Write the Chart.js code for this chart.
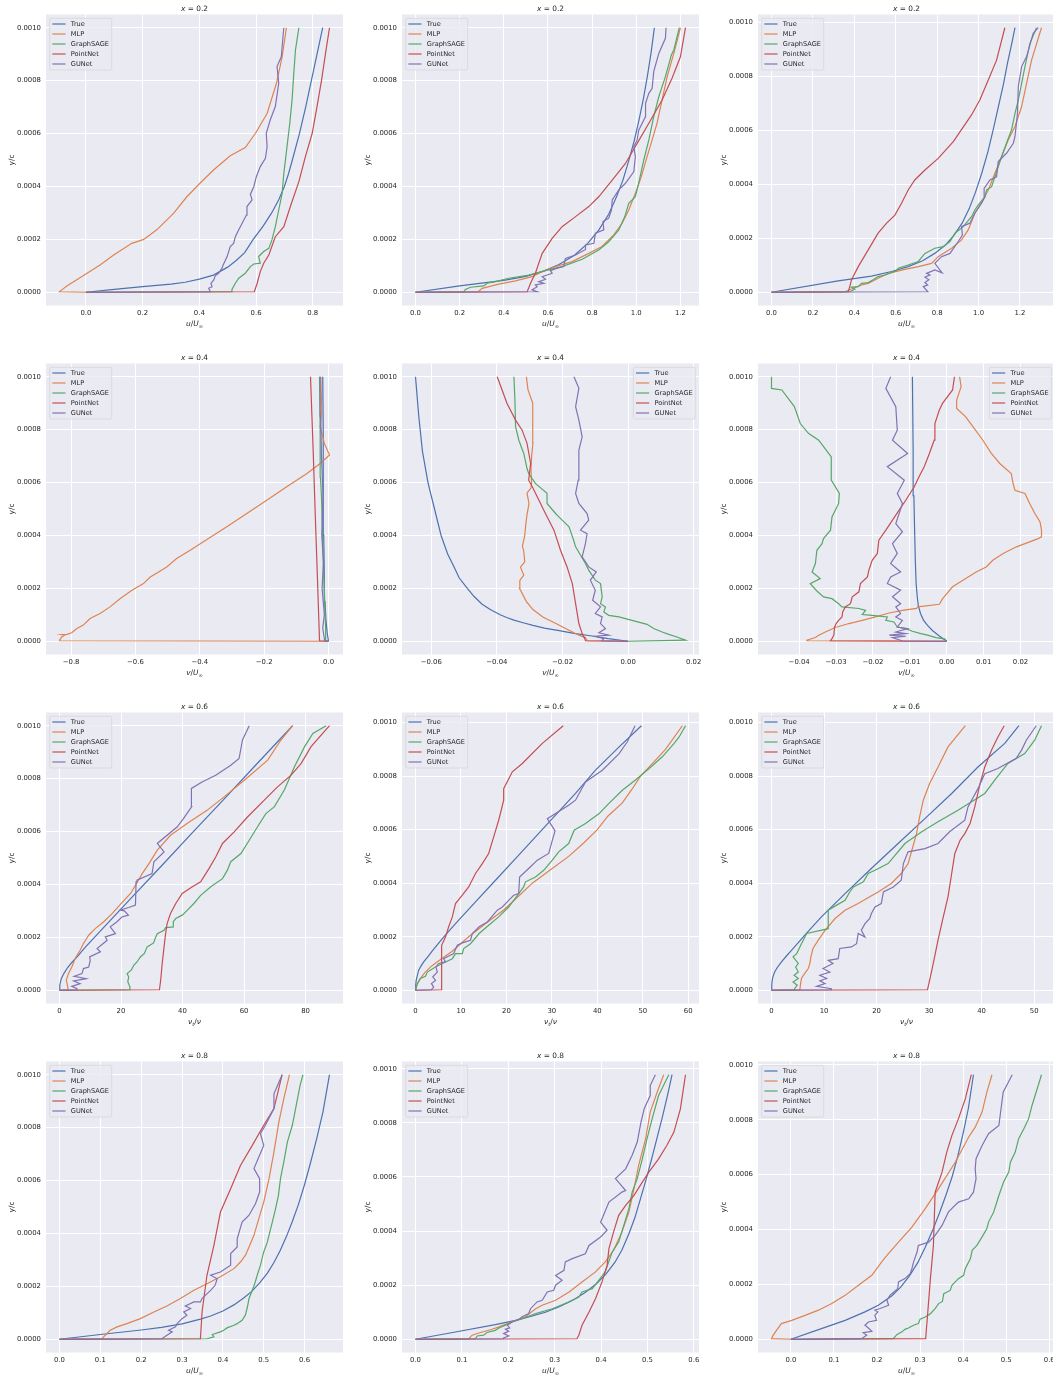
<!DOCTYPE html>
<html>
<head>
<meta charset="utf-8">
<script src="https://cdn.jsdelivr.net/npm/chart.js@4.4.1/dist/chart.umd.min.js"></script>
<style>
  html, body { margin: 0; padding: 0; background: #ffffff; overflow: hidden; }
  #fig { position: relative; width: 1053px; height: 1378px; overflow: hidden; background: #ffffff; }
  #fig canvas { position: absolute; }
</style>
</head>
<body>
<div id="fig"></div>
<script>
// Boundary-layer profiles: each point is [value, y/c in units of 1e-4]
const Y_UNIT = 1e-4;
const SERIES_NAMES = ['True', 'MLP', 'GraphSAGE', 'PointNet', 'GUNet'];
const SERIES_COLORS = ['#4C72B0', '#DD8452', '#55A868', '#C44E52', '#8172B3'];
const Y_TICKS = [0, 0.0002, 0.0004, 0.0006, 0.0008, 0.001];

// ---------- row 1: u/U_inf at x = 0.2 ----------
const P1_TRUE = [[0,0],[0.1,0.11],[0.2,0.21],[0.3,0.31],[0.35,0.38],[0.4,0.5],[0.45,0.65],[0.5,0.95],[0.53,1.2],[0.56,1.5],[0.59,2.0],[0.625,2.5],[0.655,3.0],[0.68,3.5],[0.7,4.0],[0.715,4.5],[0.728,5.0],[0.753,6.0],[0.775,7.0],[0.795,8.0],[0.815,9.0],[0.835,10]];
const P1_MLP = [[0,0],[-0.093,0.02],[-0.085,0.09],[-0.067,0.24],[-0.032,0.47],[0,0.69],[0.05,1.03],[0.098,1.41],[0.162,1.85],[0.204,2.0],[0.25,2.36],[0.309,2.98],[0.356,3.61],[0.404,4.14],[0.45,4.62],[0.509,5.16],[0.562,5.47],[0.598,6.01],[0.639,6.76],[0.672,7.9],[0.692,8.9],[0.707,10]];
const P1_SAGE = [[0,0],[0.512,0.02],[0.515,0.11],[0.527,0.34],[0.539,0.53],[0.562,0.72],[0.58,0.97],[0.592,1.07],[0.615,1.1],[0.609,1.35],[0.627,1.54],[0.645,1.66],[0.656,1.98],[0.668,2.48],[0.68,3.11],[0.692,3.74],[0.698,4.5],[0.705,5.13],[0.712,5.76],[0.719,6.39],[0.727,7.27],[0.733,8.27],[0.739,9.16],[0.751,10]];
const P1_POINT = [[0,0],[0.594,0.02],[0.604,0.34],[0.615,0.78],[0.627,1.1],[0.645,1.41],[0.668,2.1],[0.698,2.48],[0.721,3.24],[0.751,4.18],[0.774,5.13],[0.798,6.01],[0.815,7.02],[0.831,8.02],[0.845,9.03],[0.859,10]];
const P1_GUNET = [[0,0],[0.439,0.02],[0.433,0.15],[0.445,0.21],[0.441,0.34],[0.451,0.47],[0.456,0.62],[0.468,0.72],[0.48,0.91],[0.484,1.03],[0.498,1.35],[0.509,1.73],[0.521,1.85],[0.527,2.1],[0.539,2.36],[0.551,2.61],[0.566,2.92],[0.568,3.24],[0.586,3.49],[0.58,3.7],[0.592,3.99],[0.601,4.37],[0.615,4.75],[0.633,5.06],[0.639,5.5],[0.636,6.01],[0.65,6.51],[0.668,7.02],[0.68,7.9],[0.674,8.53],[0.689,8.9],[0.695,9.66],[0.698,10]];

const P2_TRUE = [[0,0],[0.2,0.24],[0.4,0.45],[0.5,0.6],[0.58,0.8],[0.65,1.05],[0.72,1.4],[0.78,1.85],[0.83,2.35],[0.875,2.95],[0.91,3.6],[0.94,4.25],[0.965,4.95],[0.99,5.7],[1.012,6.5],[1.032,7.3],[1.05,8.15],[1.067,9.05],[1.082,10]];
const P2_MLP = [[0,0],[0.284,0.02],[0.302,0.15],[0.377,0.31],[0.453,0.43],[0.528,0.59],[0.574,0.78],[0.634,0.97],[0.709,1.16],[0.785,1.47],[0.845,1.73],[0.898,2.17],[0.936,2.61],[0.966,3.11],[0.996,3.74],[1.023,4.37],[1.049,5.13],[1.072,5.76],[1.094,6.39],[1.117,7.27],[1.14,8.15],[1.17,9.03],[1.2,10]];
const P2_SAGE = [[0,0],[0.219,0.02],[0.226,0.11],[0.249,0.19],[0.309,0.24],[0.325,0.34],[0.362,0.4],[0.423,0.53],[0.513,0.65],[0.589,0.82],[0.664,0.97],[0.755,1.25],[0.83,1.6],[0.875,1.91],[0.921,2.36],[0.948,2.86],[0.966,3.36],[0.996,3.61],[1.014,4.24],[1.034,5.0],[1.057,5.76],[1.079,6.64],[1.102,7.39],[1.132,8.15],[1.159,8.97],[1.17,9.16],[1.195,10]];
const P2_POINT = [[0,0],[0.506,0.02],[0.521,0.34],[0.543,0.72],[0.574,1.47],[0.619,2.04],[0.664,2.48],[0.725,2.86],[0.785,3.24],[0.83,3.61],[0.891,4.24],[0.951,4.87],[1.004,5.63],[1.057,6.39],[1.117,7.27],[1.162,8.09],[1.2,8.9],[1.223,10]];
const P2_GUNET = [[0,0],[0.551,0.02],[0.528,0.09],[0.551,0.21],[0.543,0.28],[0.581,0.34],[0.558,0.4],[0.589,0.49],[0.574,0.59],[0.619,0.72],[0.611,0.82],[0.642,0.91],[0.672,0.97],[0.679,1.28],[0.725,1.41],[0.77,1.62],[0.77,1.79],[0.808,1.85],[0.815,2.23],[0.853,2.36],[0.849,2.67],[0.875,2.8],[0.888,3.11],[0.891,3.49],[0.921,3.87],[0.951,4.12],[0.989,4.56],[0.996,5.13],[0.989,5.5],[1.004,5.76],[1.011,6.13],[1.042,6.64],[1.042,7.14],[1.057,7.52],[1.072,7.71],[1.079,8.34],[1.102,9.03],[1.132,9.6],[1.135,10]];

const P3_TRUE = [[0,0],[0.322,0.42],[0.483,0.6],[0.58,0.77],[0.66,0.95],[0.73,1.17],[0.79,1.45],[0.84,1.75],[0.88,2.1],[0.92,2.55],[0.955,3.1],[0.985,3.7],[1.015,4.4],[1.045,5.2],[1.07,6.0],[1.095,6.85],[1.12,7.7],[1.14,8.5],[1.16,9.2],[1.176,9.8]];
const P3_MLP = [[0,0],[0.355,0.02],[0.395,0.15],[0.435,0.27],[0.467,0.33],[0.515,0.52],[0.564,0.7],[0.644,0.85],[0.709,0.95],[0.773,1.07],[0.805,1.32],[0.87,1.63],[0.918,1.94],[0.95,2.31],[0.982,2.93],[1.014,3.3],[1.047,3.79],[1.079,4.41],[1.111,5.02],[1.143,5.64],[1.176,6.14],[1.208,6.88],[1.232,7.74],[1.256,8.6],[1.304,9.8]];
const P3_SAGE = [[0,0],[0.378,0.02],[0.403,0.11],[0.386,0.19],[0.419,0.21],[0.435,0.33],[0.467,0.36],[0.491,0.46],[0.515,0.58],[0.548,0.64],[0.604,0.8],[0.612,0.89],[0.66,1.01],[0.709,1.14],[0.741,1.44],[0.789,1.63],[0.829,1.69],[0.862,1.88],[0.886,2.19],[0.926,2.43],[0.966,2.8],[0.982,3.05],[0.998,3.23],[1.031,3.54],[1.039,3.79],[1.063,3.91],[1.079,4.28],[1.095,4.65],[1.111,5.02],[1.135,5.52],[1.159,6.01],[1.176,6.63],[1.192,7.12],[1.208,7.74],[1.224,8.36],[1.248,9.22],[1.28,9.8]];
const P3_POINT = [[0,0],[0.37,0.02],[0.378,0.21],[0.386,0.46],[0.419,0.95],[0.467,1.57],[0.515,2.19],[0.556,2.56],[0.596,2.86],[0.628,3.3],[0.66,3.79],[0.692,4.16],[0.741,4.53],[0.805,4.96],[0.878,5.58],[0.966,6.57],[1.006,7.12],[1.047,7.86],[1.087,8.6],[1.127,9.8]];
const P3_GUNET = [[0,0],[0.755,0.02],[0.733,0.21],[0.754,0.27],[0.741,0.36],[0.76,0.46],[0.741,0.56],[0.765,0.64],[0.749,0.7],[0.789,0.83],[0.824,0.72],[0.789,1.07],[0.821,1.32],[0.862,1.44],[0.902,1.88],[0.922,2.12],[0.918,2.43],[0.958,2.56],[0.982,2.93],[1.014,3.3],[1.031,3.54],[1.027,3.85],[1.055,4.16],[1.087,4.28],[1.095,4.84],[1.135,5.15],[1.168,5.52],[1.176,5.77],[1.188,6.63],[1.192,7.62],[1.208,8.36],[1.232,8.73],[1.264,9.59],[1.288,9.8]];

// ---------- row 2: v/U_inf at x = 0.4 ----------
const P4_TRUE = [[0,0],[-0.004,0.3],[-0.008,0.8],[-0.011,1.5],[-0.013,2.5],[-0.015,4.0],[-0.016,6.0],[-0.017,8.0],[-0.018,10]];
const P4_MLP = [[0,0],[-0.836,0.02],[-0.836,0.04],[-0.829,0.16],[-0.819,0.23],[-0.829,0.25],[-0.813,0.26],[-0.798,0.32],[-0.782,0.48],[-0.762,0.61],[-0.741,0.86],[-0.71,1.05],[-0.679,1.3],[-0.648,1.61],[-0.611,1.93],[-0.575,2.18],[-0.554,2.43],[-0.528,2.62],[-0.503,2.81],[-0.472,3.13],[-0.43,3.44],[-0.378,3.85],[-0.316,4.33],[-0.254,4.83],[-0.192,5.33],[-0.13,5.84],[-0.067,6.34],[-0.026,6.72],[0.003,7.04],[-0.013,7.48],[-0.026,8.11],[-0.021,8.74],[-0.024,10]];
const P4_SAGE = [[0,0],[-0.008,0.02],[-0.009,0.5],[-0.012,1.5],[-0.016,3.0],[-0.022,5.5],[-0.025,6.2],[-0.026,8.0],[-0.028,10]];
const P4_POINT = [[0,0],[-0.028,0.02],[-0.034,2.2],[-0.041,4.7],[-0.048,7.3],[-0.056,10]];
const P4_GUNET = [[0,0],[-0.012,0.02],[-0.018,0.5],[-0.013,1.0],[-0.02,2.0],[-0.016,3.0],[-0.021,4.0],[-0.017,5.5],[-0.022,7.0],[-0.024,8.5],[-0.026,10]];

const P5_TRUE = [[0,0],[-0.006,0.1],[-0.011,0.2],[-0.0165,0.3],[-0.021,0.4],[-0.0255,0.5],[-0.029,0.6],[-0.032,0.7],[-0.0348,0.8],[-0.037,0.9],[-0.039,1.0],[-0.042,1.2],[-0.0445,1.4],[-0.047,1.7],[-0.049,2.0],[-0.0515,2.4],[-0.053,2.8],[-0.055,3.3],[-0.057,4.0],[-0.059,5.0],[-0.061,6.0],[-0.0627,7.2],[-0.0638,8.5],[-0.0648,10]];
const P5_MLP = [[0,0],[-0.0125,0.02],[-0.013,0.14],[-0.015,0.23],[-0.018,0.42],[-0.022,0.67],[-0.026,0.92],[-0.029,1.2],[-0.031,1.5],[-0.0331,2.0],[-0.033,2.3],[-0.0318,2.5],[-0.0328,2.8],[-0.0315,3.0],[-0.0318,3.4],[-0.0322,3.6],[-0.0315,4.0],[-0.0312,4.4],[-0.0308,4.8],[-0.0302,5.2],[-0.0308,5.6],[-0.0296,5.8],[-0.0294,6.0],[-0.0296,6.5],[-0.0294,7.0],[-0.029,7.5],[-0.029,8.0],[-0.0292,8.5],[-0.029,9.0],[-0.0305,9.5],[-0.031,10]];
const P5_SAGE = [[0,0],[0.0175,0.04],[0.0149,0.16],[0.0124,0.26],[0.0104,0.35],[0.0078,0.48],[0.0058,0.64],[0.0012,0.79],[-0.0028,0.92],[-0.0059,0.98],[-0.0074,1.11],[-0.0069,1.3],[-0.0084,1.42],[-0.0079,1.68],[-0.0084,2.18],[-0.01,2.31],[-0.012,2.69],[-0.013,2.94],[-0.016,3.57],[-0.0166,3.82],[-0.018,4.33],[-0.0211,4.7],[-0.0221,4.83],[-0.0247,5.21],[-0.0247,5.59],[-0.0282,5.96],[-0.0303,6.34],[-0.0308,6.53],[-0.0318,7.1],[-0.0333,7.6],[-0.0343,8.11],[-0.0345,9.12],[-0.0348,10]];
const P5_POINT = [[0,0],[-0.013,0.02],[-0.0132,0.1],[-0.014,0.29],[-0.015,0.67],[-0.016,1.42],[-0.017,2.18],[-0.0186,2.81],[-0.0206,3.44],[-0.0226,4.2],[-0.0252,4.83],[-0.0277,5.46],[-0.0292,5.84],[-0.0303,6.09],[-0.0297,6.72],[-0.0308,7.48],[-0.0323,7.98],[-0.0343,8.36],[-0.0369,8.99],[-0.0384,9.5],[-0.0399,10]];
const P5_GUNET = [[0,0],[-0.008,0.02],[-0.0074,0.1],[-0.01,0.19],[-0.0059,0.23],[-0.0089,0.32],[-0.0069,0.48],[-0.0084,0.67],[-0.0079,0.92],[-0.01,1.05],[-0.0084,1.3],[-0.0108,1.55],[-0.01,1.93],[-0.0115,2.31],[-0.0097,2.62],[-0.012,2.81],[-0.014,3.19],[-0.013,3.69],[-0.0125,4.07],[-0.0145,4.2],[-0.012,4.58],[-0.0125,4.83],[-0.015,5.21],[-0.016,5.59],[-0.0152,6.09],[-0.015,7.23],[-0.014,7.73],[-0.015,8.36],[-0.016,8.87],[-0.015,9.56],[-0.0165,10]];

const P6_TRUE = [[0,0],[-0.002,0.2],[-0.0038,0.4],[-0.0052,0.6],[-0.0063,0.8],[-0.0071,1.05],[-0.0077,1.35],[-0.008,1.7],[-0.0083,2.2],[-0.0085,3.0],[-0.0087,4.2],[-0.0089,5.5],[-0.0091,7.2],[-0.0093,10]];
const P6_MLP = [[0,0],[-0.0379,0.02],[-0.0379,0.04],[-0.0356,0.14],[-0.0347,0.23],[-0.0329,0.35],[-0.0302,0.52],[-0.0265,0.67],[-0.0229,0.79],[-0.0193,0.92],[-0.0156,1.07],[-0.012,1.17],[-0.0082,1.24],[-0.0079,1.3],[-0.002,1.4],[-0.0011,1.61],[0.0016,2.06],[0.0044,2.31],[0.008,2.62],[0.0107,2.81],[0.0125,3.06],[0.0153,3.32],[0.0189,3.57],[0.0248,3.88],[0.0257,3.95],[0.0257,4.2],[0.0253,4.51],[0.0239,4.83],[0.0225,5.21],[0.0212,5.59],[0.0185,5.71],[0.018,5.96],[0.0175,6.34],[0.0144,6.72],[0.0121,7.1],[0.0098,7.6],[0.0071,8.11],[0.0051,8.49],[0.0027,8.8],[0.0027,9.12],[0.0039,9.62],[0.0035,10]];
const P6_SAGE = [[0,0],[-0.0006,0.09],[-0.0029,0.14],[-0.0052,0.23],[-0.007,0.29],[-0.0093,0.38],[-0.0111,0.48],[-0.0134,0.54],[-0.0143,0.73],[-0.0165,0.79],[-0.0161,0.92],[-0.0202,0.98],[-0.0229,1.01],[-0.022,1.17],[-0.0238,1.24],[-0.0284,1.3],[-0.0293,1.42],[-0.0311,1.61],[-0.0334,1.68],[-0.0352,1.9],[-0.037,2.18],[-0.0343,2.37],[-0.0365,2.62],[-0.0356,2.94],[-0.0352,3.44],[-0.0338,3.69],[-0.0334,3.88],[-0.0315,4.2],[-0.0311,4.7],[-0.0293,5.21],[-0.0291,5.59],[-0.0313,6.09],[-0.0313,6.97],[-0.032,7.1],[-0.0347,7.6],[-0.0375,7.86],[-0.0397,8.23],[-0.0413,8.87],[-0.0447,9.5],[-0.0475,9.56],[-0.0475,10]];
const P6_POINT = [[0,0],[-0.0315,0.02],[-0.0311,0.1],[-0.0306,0.23],[-0.0304,0.54],[-0.0299,0.69],[-0.0293,0.79],[-0.0284,0.92],[-0.0282,1.11],[-0.0275,1.3],[-0.0261,1.42],[-0.0256,1.68],[-0.0238,1.87],[-0.0234,2.18],[-0.0215,2.43],[-0.0211,2.69],[-0.0202,3.06],[-0.0188,3.32],[-0.0184,3.82],[-0.0165,4.2],[-0.0147,4.58],[-0.0129,4.96],[-0.0111,5.33],[-0.0088,5.84],[-0.0075,6.22],[-0.0061,6.6],[-0.0047,7.1],[-0.0034,7.6],[-0.0032,8.23],[-0.002,8.74],[-0.0011,9.0],[0.0016,9.5],[0.0021,10]];
const P6_GUNET = [[0,0],[-0.012,0.01],[-0.0147,0.14],[-0.0111,0.19],[-0.0156,0.23],[-0.0111,0.29],[-0.0138,0.35],[-0.0106,0.48],[-0.0134,0.54],[-0.012,0.79],[-0.0138,0.92],[-0.0125,1.05],[-0.0138,1.3],[-0.0125,1.42],[-0.0147,1.68],[-0.0125,1.93],[-0.0161,2.18],[-0.0152,2.43],[-0.0125,2.62],[-0.0152,2.94],[-0.0134,3.32],[-0.0147,3.69],[-0.012,4.14],[-0.0138,4.45],[-0.012,5.21],[-0.0134,5.59],[-0.0115,6.09],[-0.0161,6.6],[-0.0106,7.1],[-0.0147,7.6],[-0.0134,7.98],[-0.0138,8.87],[-0.0165,9.56],[-0.0152,10]];

// ---------- row 3: nu_t/nu at x = 0.6 ----------
const P7_TRUE = [[0,0],[0.1,0.2],[0.6,0.45],[1.5,0.65],[2.6,0.85],[4.0,1.05],[6.0,1.3],[8.2,1.6],[12.5,2.14],[22.6,3.4],[32.9,4.67],[43,5.93],[53.2,7.19],[63.3,8.45],[75.8,10]];
const P7_MLP = [[0,0],[2.8,0.02],[2.6,0.19],[2.2,0.38],[2.9,0.63],[4.0,0.88],[5.1,1.2],[6.7,1.51],[7.8,1.77],[9.5,2.08],[11.6,2.33],[14.4,2.59],[17.1,2.9],[19.8,3.25],[23.1,3.66],[24.7,3.97],[26.9,4.41],[29.1,4.79],[31.8,5.3],[36.1,5.86],[41.6,6.31],[48.1,6.81],[53.5,7.31],[60.1,7.94],[67.7,8.7],[72,9.46],[75.8,10]];
const P7_SAGE = [[0,0],[22.9,0.02],[22.9,0.13],[22.2,0.32],[22.5,0.5],[22.0,0.63],[23.3,0.76],[24.2,0.95],[25.2,1.07],[26.3,1.26],[27.6,1.39],[28.5,1.64],[30.6,1.79],[31.2,1.99],[31.8,2.14],[34,2.27],[34.5,2.37],[37.2,2.4],[37.0,2.59],[37.8,2.71],[39.9,2.84],[41.6,3.03],[43.7,3.28],[45.9,3.59],[49.2,3.91],[53,4.22],[54.6,4.54],[55.7,4.86],[59,5.17],[61.7,5.67],[64.4,6.18],[67.1,6.68],[69.9,6.94],[73.1,7.57],[76.4,8.45],[79.7,9.21],[82.4,9.71],[86.7,10]];
const P7_POINT = [[0,0],[32.5,0.02],[32.9,0.38],[33.4,1.01],[34,1.64],[34.5,2.14],[35.0,2.52],[36.1,2.9],[37.8,3.28],[39.9,3.66],[43.2,3.91],[45.9,4.1],[48.6,4.6],[50.8,5.04],[53,5.55],[56.8,5.99],[61.2,6.56],[66.6,7.19],[70.9,7.69],[75.3,8.13],[78.6,8.58],[81.8,9.21],[87.8,10]];
const P7_GUNET = [[0,0],[5.7,0.02],[5.7,0.06],[4.0,0.15],[6.7,0.25],[4.6,0.35],[8.7,0.44],[4.8,0.53],[7.3,0.63],[7.8,0.82],[9.5,0.88],[10,1.13],[9.8,1.26],[13.3,1.45],[12.2,1.58],[15.5,1.89],[14.9,2.02],[18.2,2.14],[16.5,2.4],[18.7,2.59],[20.3,2.77],[22.4,2.84],[21.1,3.0],[19.8,3.03],[22.5,3.13],[24.7,3.22],[24.9,4.1],[25.2,4.16],[30.1,4.41],[30.7,4.86],[34,5.23],[31.8,5.55],[38.3,6.18],[40.3,6.49],[43,6.94],[42.9,7.63],[46.5,7.88],[50.8,8.13],[55.7,8.51],[58.4,8.76],[59.5,9.46],[61.7,10]];

const P8_TRUE = [[0,0],[0.05,0.2],[0.15,0.37],[0.4,0.55],[0.7,0.75],[1.2,0.9],[1.8,1.06],[2.7,1.25],[3.7,1.47],[5.9,1.93],[8.8,2.49],[13.2,3.3],[17.6,4.11],[22,4.92],[26.4,5.73],[30.8,6.54],[35.2,7.35],[39.6,8.22],[44.8,9.09],[49.7,9.88]];
const P8_MLP = [[0,0],[0.3,0.2],[0.9,0.4],[2.0,0.65],[3.5,0.9],[5.5,1.15],[8,1.45],[9.7,1.7],[11.7,2.0],[15.5,2.5],[19.4,3.0],[22.6,3.5],[25.7,4.0],[29.7,4.5],[33.7,5.0],[37,5.5],[40,6.0],[42.3,6.5],[45.5,7.0],[47.6,7.5],[49.5,8.0],[52.3,8.5],[55,9.0],[58.7,9.88]];
const P8_SAGE = [[0,0],[0.4,0.25],[1.1,0.44],[2.2,0.52],[2.6,0.68],[4.4,0.87],[5.9,1.0],[8.1,1.18],[8.8,1.37],[10.3,1.37],[10.6,1.56],[12.1,1.74],[14,2.12],[16.1,2.43],[18.3,2.74],[20.5,3.11],[22.7,3.61],[23.8,3.86],[24.2,4.05],[26.4,4.23],[28.2,4.48],[30.1,4.86],[31.5,5.17],[33.7,5.48],[34.9,5.98],[37.4,6.23],[40.4,6.6],[42.5,6.97],[45.5,7.47],[48.4,7.85],[51.4,8.28],[54.3,8.72],[56.9,9.22],[58,9.46],[59.4,9.88]];
const P8_POINT = [[0,0],[5.7,0.02],[5.7,0.87],[5.8,1.68],[6.6,1.99],[7.3,2.37],[8.1,2.74],[8.8,3.24],[10.3,3.55],[11.7,3.86],[13.2,4.36],[14.7,4.73],[16.1,5.11],[17.2,5.73],[18.3,6.35],[19.4,7.1],[19.4,7.53],[21.3,8.16],[23.5,8.47],[27.9,9.22],[32.5,9.88]];
const P8_GUNET = [[0,0],[3.5,0.02],[4.0,0.12],[3.5,0.25],[4.4,0.37],[3.8,0.5],[4.8,0.68],[4.5,0.87],[5.1,1.0],[6.6,1.06],[6.2,1.18],[7.0,1.25],[8.4,1.37],[9.2,1.68],[10.3,1.77],[12.1,1.87],[12.5,2.12],[14,2.37],[15.8,2.55],[18,2.99],[19.1,3.11],[20.5,3.36],[21.6,3.55],[22.7,3.61],[22.9,4.23],[24.9,4.55],[26.8,4.86],[29.3,5.11],[30.1,5.6],[30.7,5.95],[29,6.41],[33.7,6.91],[35.2,7.1],[37.4,7.78],[41.1,8.22],[44.8,8.84],[46.6,9.28],[48.3,9.88]];

const P9_TRUE = [[0,0],[0.05,0.2],[0.13,0.37],[0.3,0.52],[0.6,0.68],[1.1,0.85],[1.9,1.06],[2.8,1.27],[3.8,1.49],[6.3,2.05],[9.5,2.74],[14,3.61],[19,4.55],[24.1,5.48],[29.2,6.41],[34.3,7.35],[39.3,8.34],[44.4,9.22],[47.1,9.88]];
const P9_MLP = [[0,0],[5.4,0.02],[5.5,0.19],[5.7,0.44],[6.3,0.62],[7.0,0.81],[7.3,1.0],[7.5,1.25],[7.9,1.56],[8.9,1.87],[10.2,2.24],[12.1,2.68],[14,2.99],[16.5,3.24],[18.7,3.49],[20.3,3.67],[22.8,3.99],[24.7,4.36],[26,4.73],[26.9,5.35],[27.6,5.85],[28.2,6.48],[28.9,7.1],[30.1,7.72],[31.7,8.34],[33.6,9.09],[36.9,9.88]];
const P9_SAGE = [[0,0],[4.4,0.02],[4.4,0.06],[4.9,0.19],[4.1,0.31],[5.1,0.44],[4.3,0.56],[5.1,0.68],[4.6,0.87],[5.1,1.0],[4.1,1.25],[4.8,1.37],[5.4,1.62],[5.7,1.74],[6.7,2.12],[10.8,2.3],[10.8,2.99],[12.4,3.18],[14,3.36],[14.9,3.67],[15.6,3.86],[17.5,4.05],[18.4,4.36],[19.7,4.48],[22.2,4.73],[25.4,5.48],[28.6,5.92],[31.7,6.29],[35.5,6.72],[40.6,7.35],[42.5,7.85],[45,8.47],[48.2,8.84],[50.1,9.34],[51.4,9.88]];
const P9_POINT = [[0,0],[29.7,0.02],[30.1,0.37],[30.8,1.0],[31.7,1.87],[32.7,2.74],[33.6,3.49],[34.3,4.36],[34.9,5.11],[35.9,5.6],[36.8,5.85],[37.8,6.23],[38.7,6.85],[39.7,7.72],[40.6,8.34],[41.9,8.97],[43.1,9.46],[44.3,9.88]];
const P9_GUNET = [[0,0],[11.4,0.02],[11.4,0.06],[8.6,0.15],[10.2,0.25],[9.2,0.35],[10.5,0.44],[9.2,0.56],[11.1,0.68],[9.8,0.81],[11.7,1.0],[10.8,1.12],[12.7,1.18],[13,1.56],[15.2,1.62],[16.2,1.74],[16.5,2.12],[17.8,1.99],[17.1,2.24],[17.8,2.49],[18.7,2.68],[19,2.86],[19.7,3.11],[20.9,3.24],[21.3,3.67],[23.2,3.86],[24.7,4.11],[25.1,4.73],[26,5.17],[29.2,5.29],[31.7,5.48],[33.9,5.92],[36.8,6.35],[37.4,6.85],[38.1,7.1],[39.3,7.53],[40.6,8.09],[43.1,8.28],[46.6,8.66],[47.6,8.97],[48.5,9.34],[50.4,9.88]];

// ---------- row 4: u/U_inf at x = 0.8 ----------
const P10_TRUE = [[0,0],[0.1,0.18],[0.2,0.35],[0.25,0.45],[0.3,0.58],[0.345,0.76],[0.37,0.88],[0.4,1.07],[0.427,1.3],[0.45,1.55],[0.47,1.8],[0.49,2.13],[0.509,2.5],[0.525,2.9],[0.54,3.35],[0.556,3.9],[0.57,4.45],[0.585,5.1],[0.6,5.85],[0.615,6.7],[0.63,7.6],[0.645,8.6],[0.661,10]];
const P10_MLP = [[0,0],[0.104,0.02],[0.108,0.09],[0.124,0.34],[0.141,0.47],[0.165,0.59],[0.198,0.78],[0.231,1.03],[0.263,1.26],[0.296,1.54],[0.329,1.85],[0.361,2.1],[0.394,2.36],[0.427,2.67],[0.443,2.92],[0.455,3.17],[0.464,3.49],[0.476,3.93],[0.488,4.56],[0.5,5.19],[0.513,6.07],[0.525,7.08],[0.537,8.21],[0.549,9.09],[0.563,10]];
const P10_SAGE = [[0,0],[0.361,0.02],[0.378,0.09],[0.374,0.18],[0.394,0.28],[0.402,0.34],[0.41,0.43],[0.427,0.53],[0.435,0.59],[0.447,0.72],[0.455,0.91],[0.46,1.22],[0.464,1.54],[0.472,1.85],[0.478,2.1],[0.484,2.42],[0.492,2.8],[0.5,3.3],[0.509,3.68],[0.515,4.06],[0.521,4.43],[0.529,4.94],[0.536,5.44],[0.541,6.07],[0.549,6.7],[0.558,7.46],[0.57,8.09],[0.578,8.72],[0.589,9.6],[0.596,10]];
const P10_POINT = [[0,0],[0.345,0.02],[0.349,1.03],[0.361,2.42],[0.378,3.55],[0.394,4.81],[0.419,5.69],[0.443,6.57],[0.472,7.33],[0.5,8.09],[0.525,8.72],[0.545,10]];
const P10_GUNET = [[0,0],[0.251,0.02],[0.251,0.03],[0.263,0.15],[0.276,0.28],[0.267,0.34],[0.284,0.47],[0.288,0.59],[0.3,0.78],[0.312,0.91],[0.304,1.03],[0.321,1.16],[0.308,1.26],[0.329,1.41],[0.345,1.41],[0.349,1.54],[0.357,1.66],[0.37,1.85],[0.381,2.04],[0.386,2.29],[0.37,2.42],[0.394,2.54],[0.419,2.8],[0.419,3.24],[0.435,3.49],[0.435,3.8],[0.447,4.43],[0.464,4.69],[0.48,5.13],[0.49,5.57],[0.49,6.07],[0.476,6.45],[0.488,6.89],[0.5,7.33],[0.492,7.77],[0.504,8.09],[0.525,8.72],[0.525,9.28],[0.545,10]];

const P11_TRUE = [[0,0],[0.086,0.27],[0.172,0.54],[0.216,0.7],[0.25,0.85],[0.28,1.0],[0.31,1.2],[0.34,1.45],[0.365,1.72],[0.39,2.05],[0.41,2.4],[0.43,2.85],[0.445,3.3],[0.46,3.9],[0.473,4.5],[0.485,5.2],[0.497,5.9],[0.508,6.6],[0.52,7.4],[0.532,8.2],[0.543,9.0],[0.553,9.78]];
const P11_MLP = [[0,0],[0.115,0.02],[0.122,0.15],[0.14,0.25],[0.165,0.37],[0.18,0.46],[0.198,0.58],[0.216,0.7],[0.237,0.83],[0.259,1.13],[0.273,1.26],[0.302,1.44],[0.331,1.75],[0.359,2.12],[0.388,2.49],[0.409,2.86],[0.427,3.29],[0.445,3.97],[0.46,4.7],[0.471,5.57],[0.481,6.43],[0.496,7.41],[0.506,8.4],[0.521,9.14],[0.535,9.78]];
const P11_SAGE = [[0,0],[0.129,0.02],[0.133,0.12],[0.147,0.15],[0.154,0.25],[0.172,0.33],[0.18,0.42],[0.194,0.52],[0.208,0.64],[0.23,0.76],[0.259,0.95],[0.295,1.13],[0.33,1.38],[0.352,1.56],[0.359,1.75],[0.381,1.87],[0.395,2.18],[0.409,2.49],[0.424,3.23],[0.438,3.6],[0.449,4.21],[0.46,4.83],[0.467,5.44],[0.478,5.94],[0.489,6.67],[0.499,7.41],[0.51,8.15],[0.524,9.01],[0.546,9.78]];
const P11_POINT = [[0,0],[0.348,0.02],[0.352,0.15],[0.359,0.52],[0.374,1.01],[0.388,1.5],[0.402,2.12],[0.413,2.73],[0.417,3.35],[0.427,3.97],[0.438,4.58],[0.453,4.95],[0.471,5.32],[0.489,5.81],[0.503,6.18],[0.524,6.67],[0.542,7.17],[0.557,7.66],[0.571,8.52],[0.582,9.78]];
const P11_GUNET = [[0,0],[0.19,0.02],[0.19,0.05],[0.201,0.12],[0.19,0.21],[0.201,0.3],[0.194,0.37],[0.203,0.42],[0.198,0.52],[0.208,0.64],[0.223,0.74],[0.23,0.83],[0.244,0.95],[0.248,1.13],[0.262,1.38],[0.273,1.44],[0.284,1.75],[0.298,1.81],[0.302,2.0],[0.316,2.18],[0.302,2.36],[0.32,2.55],[0.323,2.86],[0.338,2.98],[0.366,3.16],[0.374,3.47],[0.399,3.78],[0.413,4.03],[0.399,4.33],[0.417,5.07],[0.445,5.44],[0.453,5.5],[0.431,5.94],[0.453,6.3],[0.467,6.8],[0.478,7.29],[0.486,8.03],[0.493,8.52],[0.506,9.01],[0.506,9.38],[0.517,9.78]];

const P12_TRUE = [[0,0],[0.071,0.39],[0.126,0.69],[0.172,1.0],[0.203,1.24],[0.234,1.58],[0.255,1.9],[0.275,2.3],[0.295,2.8],[0.312,3.35],[0.33,4.0],[0.345,4.6],[0.36,5.25],[0.375,5.95],[0.388,6.7],[0.4,7.5],[0.412,8.4],[0.424,9.64]];
const P12_MLP = [[0,0],[-0.045,0.02],[-0.041,0.15],[-0.033,0.33],[-0.022,0.57],[0.002,0.69],[0.033,0.87],[0.064,1.06],[0.095,1.3],[0.126,1.6],[0.157,1.97],[0.188,2.33],[0.211,2.82],[0.223,3.06],[0.25,3.54],[0.281,4.09],[0.312,4.76],[0.343,5.49],[0.382,6.46],[0.413,7.37],[0.428,7.73],[0.444,8.28],[0.455,9.0],[0.467,9.64]];
const P12_SAGE = [[0,0],[0.238,0.02],[0.246,0.17],[0.258,0.27],[0.265,0.36],[0.273,0.41],[0.285,0.51],[0.296,0.57],[0.3,0.73],[0.312,0.81],[0.324,0.93],[0.335,1.12],[0.343,1.3],[0.352,1.38],[0.355,1.66],[0.37,1.78],[0.374,1.97],[0.389,2.21],[0.401,2.33],[0.405,2.57],[0.417,2.94],[0.421,3.24],[0.432,3.42],[0.444,3.73],[0.455,4.03],[0.459,4.27],[0.471,4.64],[0.483,5.24],[0.494,5.73],[0.506,6.09],[0.51,6.46],[0.521,6.82],[0.529,7.31],[0.541,7.67],[0.552,8.03],[0.56,8.52],[0.572,9.13],[0.582,9.64]];
const P12_POINT = [[0,0],[0.313,0.02],[0.318,1.0],[0.324,2.21],[0.331,3.42],[0.335,5.36],[0.351,6.09],[0.362,6.82],[0.374,7.43],[0.389,8.03],[0.405,8.76],[0.419,9.64]];
const P12_GUNET = [[0,0],[0.164,0.02],[0.176,0.15],[0.168,0.24],[0.188,0.29],[0.18,0.41],[0.172,0.51],[0.18,0.63],[0.199,0.69],[0.195,0.87],[0.202,1.0],[0.195,1.06],[0.207,1.12],[0.227,1.24],[0.223,1.42],[0.23,1.6],[0.248,1.84],[0.25,2.09],[0.265,2.21],[0.277,2.39],[0.281,2.57],[0.285,2.82],[0.293,3.18],[0.296,3.42],[0.32,3.54],[0.335,3.79],[0.351,4.15],[0.366,4.64],[0.389,5.0],[0.413,5.12],[0.424,5.36],[0.43,5.85],[0.428,6.21],[0.43,6.58],[0.444,7.06],[0.459,7.49],[0.483,7.79],[0.493,9.0],[0.514,9.64]];

// x-axis tick values for each column/row
const XT_U02_A = [0, 0.2, 0.4, 0.6, 0.8];
const XT_U02_B = [0, 0.2, 0.4, 0.6, 0.8, 1.0, 1.2];
const XT_V04_A = [-0.8, -0.6, -0.4, -0.2, 0];
const XT_V04_B = [-0.06, -0.04, -0.02, 0, 0.02];
const XT_V04_C = [-0.04, -0.03, -0.02, -0.01, 0, 0.01, 0.02];
const XT_NU_A = [0, 20, 40, 60, 80];
const XT_NU_B = [0, 10, 20, 30, 40, 50, 60];
const XT_NU_C = [0, 10, 20, 30, 40, 50];
const XT_U08 = [0, 0.1, 0.2, 0.3, 0.4, 0.5, 0.6];

const PANELS = [
  { s: [P1_TRUE, P1_MLP, P1_SAGE, P1_POINT, P1_GUNET], st: '0.2', lab: 'u', xt: XT_U02_A, dec: 1, leg: 'left' },
  { s: [P2_TRUE, P2_MLP, P2_SAGE, P2_POINT, P2_GUNET], st: '0.2', lab: 'u', xt: XT_U02_B, dec: 1, leg: 'left' },
  { s: [P3_TRUE, P3_MLP, P3_SAGE, P3_POINT, P3_GUNET], st: '0.2', lab: 'u', xt: XT_U02_B, dec: 1, leg: 'left' },
  { s: [P4_TRUE, P4_MLP, P4_SAGE, P4_POINT, P4_GUNET], st: '0.4', lab: 'v', xt: XT_V04_A, dec: 1, leg: 'left' },
  { s: [P5_TRUE, P5_MLP, P5_SAGE, P5_POINT, P5_GUNET], st: '0.4', lab: 'v', xt: XT_V04_B, dec: 2, leg: 'right' },
  { s: [P6_TRUE, P6_MLP, P6_SAGE, P6_POINT, P6_GUNET], st: '0.4', lab: 'v', xt: XT_V04_C, dec: 2, leg: 'right' },
  { s: [P7_TRUE, P7_MLP, P7_SAGE, P7_POINT, P7_GUNET], st: '0.6', lab: 'nu', xt: XT_NU_A, dec: 0, leg: 'left' },
  { s: [P8_TRUE, P8_MLP, P8_SAGE, P8_POINT, P8_GUNET], st: '0.6', lab: 'nu', xt: XT_NU_B, dec: 0, leg: 'left' },
  { s: [P9_TRUE, P9_MLP, P9_SAGE, P9_POINT, P9_GUNET], st: '0.6', lab: 'nu', xt: XT_NU_C, dec: 0, leg: 'left' },
  { s: [P10_TRUE, P10_MLP, P10_SAGE, P10_POINT, P10_GUNET], st: '0.8', lab: 'u', xt: XT_U08, dec: 1, leg: 'left' },
  { s: [P11_TRUE, P11_MLP, P11_SAGE, P11_POINT, P11_GUNET], st: '0.8', lab: 'u', xt: XT_U08, dec: 1, leg: 'left' },
  { s: [P12_TRUE, P12_MLP, P12_SAGE, P12_POINT, P12_GUNET], st: '0.8', lab: 'u', xt: XT_U08, dec: 1, leg: 'left' }
];

// ---------- drawing helpers ----------
const FAMILY = '"DejaVu Sans"';
const INK = '#262626';
const TICK_SIZE = 6.9;
const LABEL_SIZE = 7.4;
const LEGEND_SIZE = 6.6;

function fontStr(size, italic) { return (italic ? 'italic ' : '') + size + 'px ' + FAMILY; }

// draws a run of text pieces (italic / subscript aware) centred on cx, baseline at by
function drawRich(ctx, parts, cx, by, size) {
  let total = 0;
  const runs = parts.map(p => {
    const s = p.sub ? size * 0.7 : size;
    ctx.font = fontStr(s, p.it);
    const w = ctx.measureText(p.t).width;
    total += w;
    return { p, s, w };
  });
  let x = cx - total / 2;
  ctx.textAlign = 'left';
  ctx.textBaseline = 'alphabetic';
  for (const r of runs) {
    ctx.font = fontStr(r.s, r.p.it);
    ctx.fillText(r.p.t, x, by + (r.p.sub ? size * 0.22 : 0));
    x += r.w;
  }
}

const X_LABELS = {
  u: [{ t: 'u', it: true }, { t: '/' }, { t: 'U', it: true }, { t: '\u221E', sub: true }],
  v: [{ t: 'v', it: true }, { t: '/' }, { t: 'U', it: true }, { t: '\u221E', sub: true }],
  nu: [{ t: '\u03BD', it: true }, { t: 't', it: true, sub: true }, { t: '/' }, { t: '\u03BD', it: true }]
};

function fmtTick(v, dec) {
  const s = Math.abs(v).toFixed(dec);
  return (v < 0 && Number(s) !== 0 ? '\u2212' : '') + s;
}

const panelBackground = {
  id: 'panelBackground',
  beforeDraw(chart) {
    const a = chart.chartArea, ctx = chart.ctx;
    ctx.save();
    ctx.fillStyle = '#EAEAF2';
    ctx.fillRect(a.left, a.top, a.right - a.left, a.bottom - a.top);
    ctx.restore();
  }
};

const panelDecor = {
  id: 'panelDecor',
  afterDraw(chart, args, opts) {
    const a = chart.chartArea, ctx = chart.ctx;
    const cx = (a.left + a.right) / 2;
    ctx.save();
    ctx.fillStyle = INK;
    // title
    drawRich(ctx, [{ t: 'x', it: true }, { t: ' = ' + opts.station }], cx, a.top - 3.3, LABEL_SIZE);
    // x label
    drawRich(ctx, X_LABELS[opts.xlabel], cx, a.bottom + 20.6, LABEL_SIZE);
    // y label
    ctx.save();
    ctx.translate(14.2, (a.top + a.bottom) / 2);
    ctx.rotate(-Math.PI / 2);
    drawRich(ctx, [{ t: 'y/c' }], 0, 0, LABEL_SIZE);
    ctx.restore();

    // legend
    ctx.font = fontStr(LEGEND_SIZE, false);
    const pad = 0.4 * LEGEND_SIZE, handle = 2 * LEGEND_SIZE, gap = 0.8 * LEGEND_SIZE;
    const tw = Math.max(...SERIES_NAMES.map(n => ctx.measureText(n).width));
    const w = pad * 2 + handle + gap + tw;
    const h = 51.7;
    const x0 = opts.legend === 'right' ? a.right - 3.7 - w : a.left + 3.7;
    const y0 = a.top + 3.8;
    ctx.beginPath();
    ctx.roundRect(x0, y0, w, h, 1.4);
    ctx.fillStyle = 'rgba(234,234,242,0.8)';
    ctx.fill();
    ctx.lineWidth = 0.7;
    ctx.strokeStyle = 'rgba(204,204,204,0.8)';
    ctx.stroke();
    SERIES_NAMES.forEach((name, i) => {
      const cy = y0 + 5.7 + 10 * i;
      ctx.beginPath();
      ctx.moveTo(x0 + pad, cy);
      ctx.lineTo(x0 + pad + handle, cy);
      ctx.strokeStyle = SERIES_COLORS[i];
      ctx.lineWidth = 1.2;
      ctx.stroke();
      ctx.fillStyle = INK;
      ctx.font = fontStr(LEGEND_SIZE, false);
      ctx.textAlign = 'left';
      ctx.textBaseline = 'alphabetic';
      ctx.fillText(name, x0 + pad + handle + gap, cy + 2.4);
    });
    ctx.restore();
  }
};

function paddedRange(values) {
  const lo = Math.min(...values), hi = Math.max(...values);
  const m = (hi - lo) * 0.05;
  return [lo - m, hi + m];
}

const fig = document.getElementById('fig');
PANELS.forEach((p, k) => {
  const row = Math.floor(k / 3), col = k % 3;
  const canvas = document.createElement('canvas');
  canvas.width = 356;
  canvas.height = 349;
  canvas.style.left = (356 * col) + 'px';
  canvas.style.top = (349 * row) + 'px';
  fig.appendChild(canvas);

  const xs = [], ys = [];
  p.s.forEach(ser => ser.forEach(([x, y]) => { xs.push(x); ys.push(y * Y_UNIT); }));
  const [xmin, xmax] = paddedRange(xs);
  const [ymin, ymax] = paddedRange(ys);

  const tickFont = { family: 'DejaVu Sans', size: TICK_SIZE };
  new Chart(canvas, {
    type: 'scatter',
    data: {
      datasets: p.s.map((ser, i) => ({
        label: SERIES_NAMES[i],
        data: ser.map(([x, y]) => ({ x: x, y: y * Y_UNIT })),
        showLine: true,
        borderColor: SERIES_COLORS[i],
        backgroundColor: SERIES_COLORS[i],
        borderWidth: 1.2,
        pointRadius: 0,
        pointHoverRadius: 0,
        tension: 0,
        order: 4 - i
      }))
    },
    options: {
      responsive: false,
      animation: false,
      events: [],
      layout: { padding: { left: 0, top: 14.5, right: 13, bottom: 0 } },
      plugins: {
        legend: { display: false },
        tooltip: { enabled: false },
        title: { display: false },
        panelDecor: { station: p.st, xlabel: p.lab, legend: p.leg }
      },
      scales: {
        x: {
          type: 'linear',
          min: xmin,
          max: xmax,
          afterBuildTicks: s => { s.ticks = p.xt.map(v => ({ value: v })); },
          afterFit: s => { s.height = 43.5; },
          grid: { color: '#ffffff', lineWidth: 1, drawTicks: false },
          border: { display: false },
          ticks: { padding: 4, color: INK, font: tickFont, autoSkip: false, maxRotation: 0, minRotation: 0,
                   callback: v => fmtTick(v, p.dec) }
        },
        y: {
          type: 'linear',
          min: ymin,
          max: ymax,
          afterBuildTicks: s => { s.ticks = Y_TICKS.map(v => ({ value: v })); },
          afterFit: s => { s.width = 46; },
          grid: { color: '#ffffff', lineWidth: 1, drawTicks: false },
          border: { display: false },
          ticks: { padding: 5, color: INK, font: tickFont, callback: v => v.toFixed(4) }
        }
      }
    },
    plugins: [panelBackground, panelDecor]
  });
});
</script>
</body>
</html>
